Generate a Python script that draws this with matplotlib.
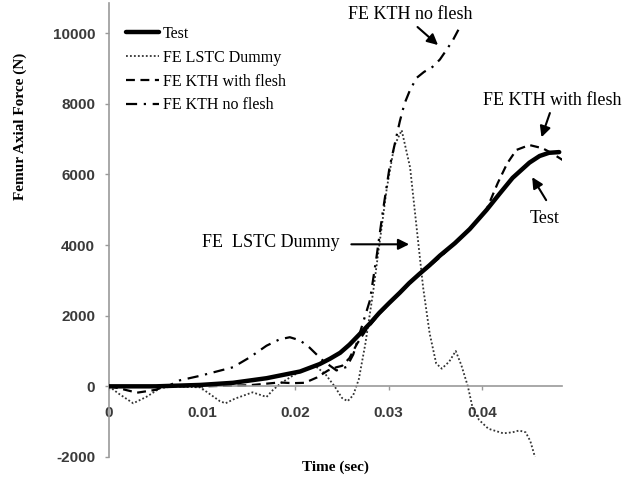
#femur axial force vs time - test vs FE models
import matplotlib
matplotlib.use("Agg")
import matplotlib.pyplot as plt

#series (time in sec, force in N)
test_t = [0, 0.005, 0.0098, 0.0133, 0.0169, 0.0186, 0.0205, 0.0215, 0.0226, 0.0237,
          0.0248, 0.0258, 0.0269, 0.028, 0.029, 0.0301, 0.0312, 0.0322, 0.0333, 0.0344,
          0.0355, 0.0371, 0.0387, 0.0405, 0.0419, 0.0433, 0.0451, 0.0462, 0.0472, 0.0483]
test_f = [0, 0, 40, 100, 230, 320, 420, 520, 630, 780,
          950, 1180, 1480, 1780, 2080, 2370, 2650, 2920, 3180, 3430,
          3700, 4050, 4450, 4990, 5450, 5900, 6330, 6520, 6610, 6630]

lstc_t = [0, 0.001, 0.0026, 0.004, 0.0055, 0.007, 0.0098, 0.0119, 0.0125, 0.0135,
          0.0154, 0.0169, 0.0176, 0.0185, 0.0197, 0.021, 0.0222, 0.0232, 0.0242, 0.025,
          0.0256, 0.0262, 0.0268, 0.0275, 0.0283, 0.029, 0.0298, 0.0306, 0.0314, 0.0323,
          0.033, 0.0337, 0.0344, 0.0351, 0.0357, 0.0365, 0.0372, 0.0378, 0.0385, 0.039,
          0.0397, 0.0407, 0.0423, 0.0433, 0.044, 0.0447, 0.0452, 0.0457]
lstc_f = [0, -200, -480, -300, -50, 0, -30, -420, -480, -350,
          -170, -300, -100, 100, 300, 480, 560, 350, 0, -330,
          -420, -250, 200, 1200, 2600, 4000, 5600, 6800, 7250, 6200,
          4500, 2800, 1500, 650, 500, 700, 1000, 600, 0, -600,
          -950, -1200, -1330, -1300, -1250, -1300, -1550, -2000]

flesh_t = [0, 0.001, 0.003, 0.005, 0.006, 0.01, 0.015, 0.0183, 0.0197, 0.021,
           0.0223, 0.0235, 0.0244, 0.025, 0.0258, 0.0266, 0.0276, 0.029, 0.0312, 0.0333,
           0.0355, 0.0387, 0.0405, 0.0417, 0.0427, 0.0437, 0.0451, 0.0465, 0.0475, 0.0487]
flesh_f = [0, -50, -180, -100, 0, 0, 30, 110, 90, 100,
           250, 450, 540, 580, 800, 1200, 1600, 2050, 2650, 3170,
           3650, 4450, 5000, 5750, 6300, 6690, 6830, 6740, 6600, 6400]

noflesh_t = [0, 0.004, 0.0065, 0.0076, 0.0098, 0.0133, 0.0151, 0.0169, 0.0183, 0.0194,
             0.0205, 0.0215, 0.0229, 0.0244, 0.0255, 0.0262, 0.0269, 0.028, 0.0287, 0.0294,
             0.0301, 0.0312, 0.0317, 0.0323, 0.033, 0.0338, 0.0347, 0.0355, 0.0362, 0.0369,
             0.0376]
noflesh_f = [0, 0, 30, 170, 300, 540, 820, 1150, 1330, 1390,
             1300, 1100, 740, 450, 550, 900, 1500, 2440, 3660, 4990,
             6200, 7500, 8000, 8390, 8730, 8900, 9040, 9250, 9520, 9800,
             10150]

x_ticks = [0, 0.01, 0.02, 0.03, 0.04]
x_tick_labels = ["0", "0.01", "0.02", "0.03", "0.04"]
y_ticks = [-2000, 0, 2000, 4000, 6000, 8000, 10000]

serif = "Liberation Serif"
sans = "Liberation Sans"
axis_grey = "#9a9a9a"

plt.rcParams["axes.unicode_minus"] = False

fig = plt.figure(figsize=(6.26, 4.83), dpi=100)
ax = fig.add_axes([109 / 626, 26 / 483, 453 / 626, 454 / 483])

#the four curves
ax.plot(test_t, test_f, color="black", lw=3.2, solid_capstyle="round",
        solid_joinstyle="round", label="Test", zorder=5)
ax.plot(lstc_t, lstc_f, color="#333333", lw=1.3, linestyle=(0, (1, 1.2)), label="FE LSTC Dummy")
ax.plot(flesh_t, flesh_f, color="black", lw=1.6, linestyle=(0, (4, 2.5)), label="FE KTH with flesh")
ax.plot(noflesh_t, noflesh_f, color="black", lw=1.6, linestyle=(0, (5, 3, 1, 3)), label="FE KTH no flesh")

#axes: left spine plus a horizontal line at zero
ax.set_xlim(0, 0.0486)
ax.set_ylim(-2000, 10850)
ax.spines["top"].set_visible(False)
ax.spines["right"].set_visible(False)
ax.spines["bottom"].set_position(("data", 0))
for side in ["left", "bottom"]:
    ax.spines[side].set_color(axis_grey)
    ax.spines[side].set_linewidth(1.2)

ax.set_xticks(x_ticks)
ax.set_xticklabels(x_tick_labels)
ax.set_yticks(y_ticks)
ax.tick_params(axis="both", colors=axis_grey, length=3, width=1, direction="out")
ax.tick_params(axis="x", pad=11)
ax.tick_params(axis="y", pad=7)
for lab in ax.get_xticklabels() + ax.get_yticklabels():
    lab.set_fontfamily(sans)
    lab.set_fontsize(11)
    lab.set_fontweight("bold")
    lab.set_color("#3a3a3a")

#axis titles
fig.text(335 / 626, 1 - 467 / 483, "Time (sec)", family=serif, fontweight="bold",
         fontsize=11, ha="center", va="center")
fig.text(20 / 626, 1 - 126 / 483, "Femur Axial Force (N)", family=serif, fontweight="bold",
         fontsize=11, ha="center", va="center", rotation=90)

#legend without a frame in the upper left
ax.legend(loc="upper left", bbox_to_anchor=(0.012, 0.975), frameon=False,
          prop={"family": serif, "size": 11.5}, handlelength=2.1, handletextpad=0.25,
          labelspacing=0.5, borderaxespad=0.3)

#callouts with arrows
arrow = dict(arrowstyle="-|>", color="black", lw=1.5, mutation_scale=16, shrinkA=0, shrinkB=0)
ax.annotate("FE KTH no flesh", xy=(0.0353, 9660), xytext=(0.0323, 10520),
            family=serif, fontsize=13, ha="center", va="center", annotation_clip=False)
ax.annotate("", xy=(0.0353, 9660), xytext=(0.0331, 10170), arrowprops=arrow, annotation_clip=False)

ax.annotate("FE KTH with flesh", xy=(0.0464, 7050), xytext=(0.0476, 8100),
            family=serif, fontsize=13, ha="center", va="center", annotation_clip=False)
ax.annotate("", xy=(0.0464, 7050), xytext=(0.0473, 7735), arrowprops=arrow, annotation_clip=False)

ax.annotate("Test", xy=(0.0454, 5920), xytext=(0.0467, 4760),
            family=serif, fontsize=13, ha="center", va="center", annotation_clip=False)
ax.annotate("", xy=(0.0454, 5920), xytext=(0.0469, 5270), arrowprops=arrow, annotation_clip=False)

ax.annotate("FE  LSTC Dummy", xy=(0.0322, 4020), xytext=(0.01736, 4080),
            family=serif, fontsize=13, ha="center", va="center", annotation_clip=False)
ax.annotate("", xy=(0.0322, 4020), xytext=(0.026, 4020), arrowprops=arrow, annotation_clip=False)

fig.savefig("out.png", dpi=100)
